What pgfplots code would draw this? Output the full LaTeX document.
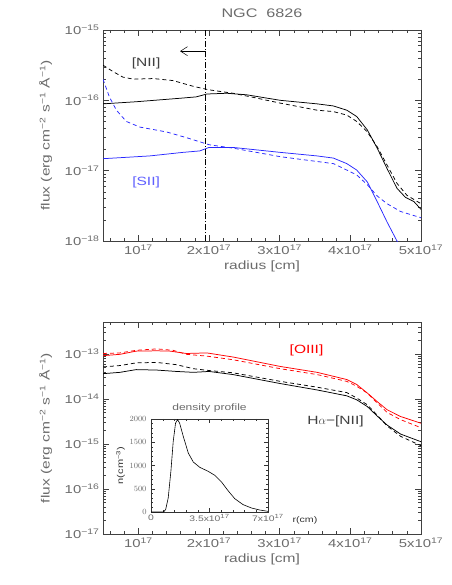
\documentclass[border=0pt]{standalone}
\usepackage{fontspec}
\setmainfont{Liberation Sans}[FakeStretch=1.3]
\usepackage{pgfplots}
\pgfplotsset{compat=1.18}
\usetikzlibrary{arrows.meta}
\definecolor{txt}{gray}{0.42}
\definecolor{myblue}{RGB}{40,40,255}
\definecolor{lblue}{RGB}{95,95,255}
\newcommand{\sups}[1]{\textsuperscript{#1}}
\tikzset{dsh/.style={dash pattern=on 4bp off 3bp}}
\pgfplotsset{
 mainax/.style={
  scale only axis, width=318bp, height=211bp,
  xmin=0.5, xmax=5,
  xtick={1,2,3,4,5},
  xticklabels={10\sups{17},2x10\sups{17},3x10\sups{17},4x10\sups{17},5x10\sups{17}},
  minor xtick={0.6,0.8,1.2,1.4,1.6,1.8,2.2,2.4,2.6,2.8,3.2,3.4,3.6,3.8,4.2,4.4,4.6,4.8},
  tick align=inside, major tick length=6bp, minor tick length=3bp,
  ticklabel style={font=\fontsize{11.5}{14}\selectfont, text=txt},
  label style={font=\fontsize{12}{14}\selectfont, text=txt},
  xlabel={radius [cm]},
  ylabel={flux (erg cm\sups{−2} s\sups{−1} Å\sups{−1})},
  xlabel style={at={(axis description cs:0.5,-0.12)}, anchor=center},
  ylabel style={at={(axis description cs:-0.18,0.5)}, anchor=center},
  axis line style={black!75, line width=0.7pt},
  tick style={black!75, line width=0.5pt},
  every axis plot/.append style={line width=0.75pt},
 }
}
\begin{document}
\begin{tikzpicture}[x=1bp,y=1bp]
\path[use as bounding box] (0,0) rectangle (452,585);
% ---------------- top panel
\begin{axis}[mainax, ymode=log, at={(103bp,344bp)}, anchor=south west,
  ymin=1e-18, ymax=1e-15,
  ytick={1e-18,1e-17,1e-16,1e-15},
  yticklabels={10\sups{−18},10\sups{−17},10\sups{−16},10\sups{−15}},
  minor ytick={2e-18,3e-18,4e-18,5e-18,6e-18,7e-18,8e-18,9e-18,2e-17,3e-17,4e-17,5e-17,6e-17,7e-17,8e-17,9e-17,2e-16,3e-16,4e-16,5e-16,6e-16,7e-16,8e-16,9e-16},
  title={NGC \ 6826},
  title style={font=\fontsize{12.5}{14}\selectfont, text=txt, yshift=3bp},
]
% [NII] solid
\addplot[black] coordinates {(0.5,8.91e-17) (0.97,9.55e-17) (1.59,1.07e-16) (1.82,1.12e-16) (1.97,1.23e-16) (2.25,1.26e-16) (2.53,1.20e-16) (3.01,1.00e-16) (3.53,8.91e-17) (3.76,8.32e-17) (3.95,7.24e-17) (4.09,5.89e-17) (4.24,3.80e-17) (4.38,2.09e-17) (4.52,1.07e-17) (4.66,5.62e-18) (4.78,4.17e-18) (4.90,3.63e-18) (5.0,2.82e-18)};
% [NII] dashed
\addplot[black, dsh] coordinates {(0.5,3.16e-16) (0.64,2.57e-16) (0.78,2.14e-16) (0.93,2.00e-16) (1.21,2.04e-16) (1.49,1.91e-16) (1.78,1.58e-16) (2.0,1.41e-16) (2.34,1.26e-16) (2.63,1.10e-16) (3.01,9.12e-17) (3.53,7.24e-17) (3.76,6.92e-17) (3.95,6.17e-17) (4.09,5.01e-17) (4.24,3.55e-17) (4.38,2.19e-17) (4.52,1.20e-17) (4.66,6.61e-18) (4.80,4.47e-18) (5.0,3.39e-18)};
% [SII] solid
\addplot[myblue] coordinates {(0.5,1.48e-17) (1.16,1.62e-17) (1.63,1.82e-17) (1.87,1.91e-17) (2.0,2.14e-17) (2.34,2.14e-17) (3.01,1.82e-17) (3.53,1.62e-17) (3.76,1.51e-17) (3.95,1.26e-17) (4.09,1.02e-17) (4.24,6.92e-18) (4.38,3.63e-18) (4.52,1.86e-18) (4.66,1.00e-18) (4.80,5.25e-19)};
% [SII] dashed
\addplot[myblue, dsh] coordinates {(0.5,2.00e-16) (0.59,1.12e-16) (0.69,7.24e-17) (0.83,5.01e-17) (1.02,4.17e-17) (1.40,3.55e-17) (1.68,2.95e-17) (2.0,2.34e-17) (2.34,2.09e-17) (3.01,1.58e-17) (3.53,1.35e-17) (3.76,1.26e-17) (3.95,1.02e-17) (4.09,8.71e-18) (4.24,6.31e-18) (4.38,4.37e-18) (4.52,3.39e-18) (4.71,2.63e-18) (5.0,2.14e-18)};
% vertical dash-dot line and arrow
\addplot[black, line width=0.45pt, dash pattern=on 6bp off 2bp on 0.8bp off 2bp] coordinates {(1.94,1e-18) (1.94,1e-15)};
\addplot[black, line width=0.5pt, -{Straight Barb[length=7bp,width=9bp]}] coordinates {(1.94,5.0e-16) (1.59,5.0e-16)};
\node[text=black!75, font=\fontsize{12}{14}\selectfont] at (axis cs:1.11,3.39e-16) {[NII]};
\node[text=lblue, font=\fontsize{12}{14}\selectfont] at (axis cs:1.11,6.92e-18) {[SII]};
\end{axis}
% ---------------- bottom panel
\begin{axis}[mainax, ymode=log, at={(103bp,51bp)}, anchor=south west, height=212bp,
  ymin=1e-17, ymax=5.1e-13,
  ytick={1e-17,1e-16,1e-15,1e-14,1e-13},
  yticklabels={10\sups{−17},10\sups{−16},10\sups{−15},10\sups{−14},10\sups{−13}},
  minor ytick={2e-17,3e-17,4e-17,5e-17,6e-17,7e-17,8e-17,9e-17,2e-16,3e-16,4e-16,5e-16,6e-16,7e-16,8e-16,9e-16,2e-15,3e-15,4e-15,5e-15,6e-15,7e-15,8e-15,9e-15,2e-14,3e-14,4e-14,5e-14,6e-14,7e-14,8e-14,9e-14,2e-13,3e-13,4e-13,5e-13},
]
% [OIII] solid
\addplot[red] coordinates {(0.5,9.12e-14) (0.74,9.77e-14) (0.97,1.15e-13) (1.26,1.17e-13) (1.45,1.15e-13) (1.68,1.02e-13) (1.97,1.05e-13) (2.34,8.51e-14) (3.01,5.25e-14) (3.53,3.89e-14) (3.95,2.69e-14) (4.09,2.09e-14) (4.24,1.35e-14) (4.38,8.71e-15) (4.52,5.75e-15) (4.71,4.07e-15) (5.0,2.88e-15)};
% [OIII] dashed
\addplot[red, dsh] coordinates {(0.5,1.02e-13) (0.74,1.05e-13) (0.97,1.20e-13) (1.26,1.29e-13) (1.49,1.20e-13) (1.68,9.77e-14) (1.97,8.91e-14) (2.34,7.41e-14) (3.01,4.68e-14) (3.53,3.47e-14) (3.95,2.45e-14) (4.09,1.91e-14) (4.24,1.35e-14) (4.38,8.13e-15) (4.52,5.01e-15) (4.71,3.47e-15) (5.0,2.29e-15)};
% Halpha-[NII] solid
\addplot[black] coordinates {(0.5,3.63e-14) (0.74,3.89e-14) (0.97,4.47e-14) (1.26,4.37e-14) (1.54,4.07e-14) (1.78,3.89e-14) (2.0,4.07e-14) (2.34,3.47e-14) (3.01,2.19e-14) (3.53,1.58e-14) (3.95,1.17e-14) (4.09,9.55e-15) (4.24,6.76e-15) (4.38,4.17e-15) (4.52,2.63e-15) (4.71,1.66e-15) (5.0,1.12e-15)};
% Halpha-[NII] dashed
\addplot[black, dsh] coordinates {(0.5,5.13e-14) (0.74,5.50e-14) (0.97,6.31e-14) (1.26,6.46e-14) (1.54,5.75e-14) (1.78,4.68e-14) (2.0,4.27e-14) (2.34,3.80e-14) (3.01,2.45e-14) (3.53,1.82e-14) (3.95,1.38e-14) (4.09,1.05e-14) (4.24,7.41e-15) (4.38,4.37e-15) (4.52,2.51e-15) (4.71,1.48e-15) (5.0,9.12e-16)};
\node[text=red, font=\fontsize{12}{14}\selectfont] at (axis cs:3.38,1.17e-13) {[OIII]};
\node[text=black!75, font=\fontsize{12}{14}\selectfont] at (axis cs:3.79,3.24e-15) {H$\alpha$−[NII]};
\end{axis}
% ---------------- inset
\begin{axis}[at={(151bp,73bp)}, anchor=south west, scale only axis,
  width=117bp, height=93bp, clip=false,
  xmin=0, xmax=7, ymin=0, ymax=2000,
  xtick={0,3.5,7}, xticklabels={0,3.5x10\sups{17},7x10\sups{17}},
  ytick={0,500,1000,1500,2000},
  /pgf/number format/1000 sep={},
  minor x tick num=4, minor y tick num=4,
  tick align=inside, major tick length=4bp, minor tick length=2bp,
  ticklabel style={font=\fontsize{8}{9}\selectfont, text=txt},
  xticklabel style={yshift=1bp},
  yticklabel style={xshift=-1bp},
  axis line style={black!80, line width=0.7pt},
  tick style={black!80, line width=0.4pt},
  title={density profile},
  title style={font=\fontsize{9.3}{11}\selectfont, text=txt, yshift=-3bp},
  ylabel={n(cm\sups{−3})},
  ylabel style={font=\fontsize{8.5}{10}\selectfont, text=black!80, at={(axis description cs:-0.26,0.5)}, anchor=center},
  axis background/.style={fill=white},
]
\addplot[black, line width=0.6pt] coordinates {(0,0) (0.74,0) (0.875,50) (1.03,301) (1.19,875) (1.33,1520) (1.47,1914) (1.59,1986) (1.71,1914) (1.93,1627) (2.23,1269) (2.53,1075) (2.92,960) (3.42,875) (3.82,789) (4.22,645) (4.61,459) (5.01,287) (5.51,158) (6.01,86) (6.50,43) (7.0,14)};
\node[anchor=west, font=\fontsize{8.2}{10}\selectfont, text=black!80] at (axis description cs:1.18,-0.085) {r(cm)};
\end{axis}
\end{tikzpicture}
\end{document}
